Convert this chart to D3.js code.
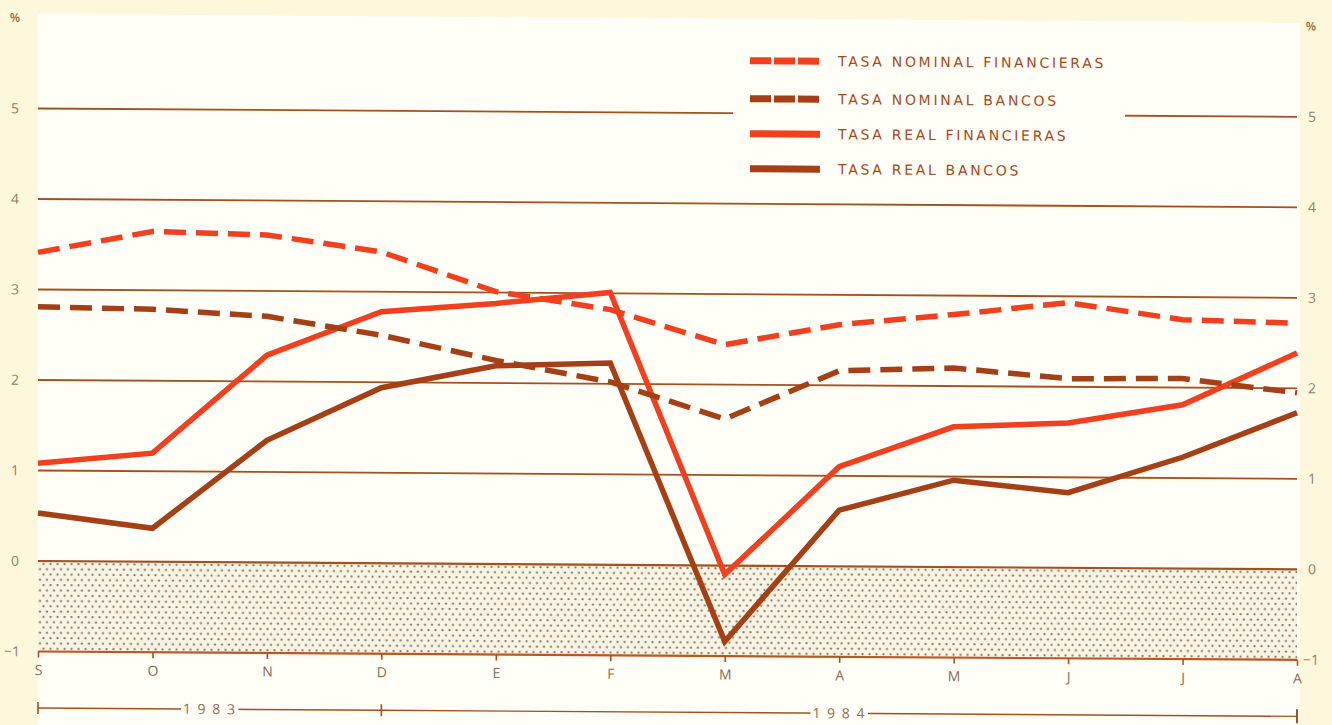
<!DOCTYPE html>
<html>
<head>
<meta charset="utf-8">
<script src="https://cdn.jsdelivr.net/npm/d3@7"></script>
<style>
  body { margin: 0; background: #fdf8dc; }
  svg { display: block; }
</style>
</head>
<body>
<div id="chart"></div>
<script>
// Data (monthly, Sept 1983 - Aug 1984)
var months = ["S", "O", "N", "D", "E", "F", "M", "A", "M", "J", "J", "A"];
var yTicks = [-1, 0, 1, 2, 3, 4, 5];

var nominalFinancieras = [3.41, 3.65, 3.62, 3.44, 3.01, 2.82, 2.44, 2.67, 2.79, 2.93, 2.75, 2.72];
var nominalBancos      = [2.81, 2.79, 2.72, 2.52, 2.25, 2.02, 1.62, 2.16, 2.20, 2.09, 2.10, 1.95];
var realFinancieras    = [1.08, 1.20, 2.29, 2.78, 2.88, 3.01, -0.10, 1.10, 1.55, 1.60, 1.81, 2.39];
var realBancos         = [0.53, 0.37, 1.35, 1.94, 2.19, 2.23, -0.84, 0.62, 0.96, 0.83, 1.23, 1.73];

var seriesNames = ["TASA NOMINAL FINANCIERAS", "TASA NOMINAL BANCOS", "TASA REAL FINANCIERAS", "TASA REAL BANCOS"];
var years = ["1 9 8 3", "1 9 8 4"];
var yearSpans = [[0, 3], [3, 11]];

// Width and height
var w = 1332;
var h = 725;

var red = "#f0401f";
var brown = "#a43f16";
var grid = "#a5511e";
var labelColor = "#8e7f68";

var xScale = d3.scaleLinear()
  .domain([0, months.length - 1])
  .range([38, 1297]);

var yScale = d3.scaleLinear()
  .domain([-1, 5])
  .range([651.5, 108.5]);

var svg = d3.select("#chart")
  .append("svg")
  .attr("width", w)
  .attr("height", h);

// stipple pattern for the negative band
var defs = svg.append("defs");
var pat = defs.append("pattern")
  .attr("id", "dots")
  .attr("patternUnits", "userSpaceOnUse")
  .attr("width", 7)
  .attr("height", 10.6);
pat.append("rect").attr("width", 7).attr("height", 10.6).attr("fill", "#f9f3e4");
pat.append("circle").attr("cx", 1.5).attr("cy", 2).attr("r", 1.15).attr("fill", "#85776a");
pat.append("circle").attr("cx", 5).attr("cy", 7.3).attr("r", 1.15).attr("fill", "#85776a");

// the printed page is slightly tilted
var g = svg.append("g")
  .attr("transform", "translate(38,0) skewY(0.38) translate(-38,0)");

// white panel
g.append("rect")
  .attr("x", 38)
  .attr("y", 14)
  .attr("width", 1262)
  .attr("height", h)
  .attr("fill", "#fffef7");

// negative band
g.append("rect")
  .attr("x", xScale(0))
  .attr("y", yScale(0))
  .attr("width", xScale(months.length - 1) - xScale(0))
  .attr("height", yScale(-1) - yScale(0))
  .attr("fill", "url(#dots)");

// gridlines
g.selectAll(".grid")
  .data(yTicks)
  .enter().append("line")
  .attr("class", "grid")
  .attr("x1", xScale(0))
  .attr("x2", xScale(months.length - 1))
  .attr("y1", function(d) { return yScale(d); })
  .attr("y2", function(d) { return yScale(d); })
  .style("stroke", function(d) { return d == -1 ? "#c0561f" : grid; })
  .style("stroke-width", function(d) { return d <= 0 ? 2.2 : 1.8; });

// Y axis labels, both sides
var tickLabel = function(d) { return d < 0 ? "\u2212" + Math.abs(d) : d; };
g.selectAll(".ylabL")
  .data(yTicks)
  .enter().append("text")
  .attr("x", function(d) { return d < 0 ? 20 : 15; })
  .attr("y", function(d) { return yScale(d); })
  .attr("dy", "0.35em")
  .style("text-anchor", function(d) { return d < 0 ? "end" : "middle"; })
  .style("font", "14px 'Open Sans', sans-serif")
  .style("fill", labelColor)
  .text(tickLabel);

g.selectAll(".ylabR")
  .data(yTicks)
  .enter().append("text")
  .attr("x", function(d) { return d < 0 ? 1303 : 1312; })
  .attr("y", function(d) { return yScale(d); })
  .attr("dy", "0.35em")
  .style("text-anchor", function(d) { return d < 0 ? "start" : "middle"; })
  .style("font", "14px 'Open Sans', sans-serif")
  .style("fill", labelColor)
  .text(tickLabel);

g.append("text").attr("x", 15).attr("y", 22)
  .style("text-anchor", "middle").style("font", "600 12px 'Open Sans', sans-serif")
  .style("fill", "#9a6a40").text("%");
g.append("text").attr("x", 1311).attr("y", 22)
  .style("text-anchor", "middle").style("font", "600 12px 'Open Sans', sans-serif")
  .style("fill", "#9a6a40").text("%");

// X axis: ticks under -1 line + month letters
var xAxis = d3.axisBottom(xScale)
  .tickValues(d3.range(months.length))
  .tickSize(6)
  .tickFormat(function(d) { return months[d]; });

var xg = g.append("g")
  .attr("transform", "translate(0," + yScale(-1) + ")")
  .call(xAxis);
xg.select(".domain").remove();
xg.selectAll(".tick line").style("stroke", grid).style("stroke-width", 1.6);
xg.selectAll(".tick text")
  .attr("y", 11)
  .attr("dy", "0.9em")
  .style("font", "14px 'Open Sans', sans-serif")
  .style("fill", "#8a6d55");

// year brackets
var yearY = 708;
yearSpans.forEach(function(s, i) {
  var x1 = xScale(s[0]), x2 = xScale(s[1]);
  g.append("line")
    .attr("x1", x1).attr("x2", x2)
    .attr("y1", yearY).attr("y2", yearY)
    .style("stroke", grid).style("stroke-width", 1.4);
  g.append("line")
    .attr("x1", x1).attr("x2", x1)
    .attr("y1", yearY - 6).attr("y2", yearY + 6)
    .style("stroke", grid).style("stroke-width", 1.6);
  if (i == yearSpans.length - 1) {
    g.append("line")
      .attr("x1", x2).attr("x2", x2)
      .attr("y1", yearY - 7).attr("y2", yearY + 7)
      .style("stroke", grid).style("stroke-width", 2);
  }
  var t = g.append("text")
    .attr("x", (x1 + x2) / 2)
    .attr("y", yearY)
    .attr("dy", "0.35em")
    .style("text-anchor", "middle")
    .style("font", "14px 'Open Sans', sans-serif")
    .style("letter-spacing", "1.5px")
    .style("fill", "#8a6d55")
    .text(years[i]);
  var bb = t.node().getBBox();
  g.insert("rect", function() { return t.node(); })
    .attr("x", bb.x - 2).attr("y", bb.y)
    .attr("width", bb.width + 4).attr("height", bb.height)
    .attr("fill", "#fffef7");
});

// legend backdrop hides the 5 gridline
g.append("rect")
  .attr("x", 733).attr("y", 36)
  .attr("width", 392).attr("height", 150)
  .attr("fill", "#fffef7");

// Line function
var line = d3.line()
  .x(function(d, i) { return xScale(i); })
  .y(function(d) { return yScale(d); });

var series = [
  { name: seriesNames[0], values: nominalFinancieras, color: red, dash: "22,10" },
  { name: seriesNames[1], values: nominalBancos, color: brown, dash: "22,10" },
  { name: seriesNames[2], values: realFinancieras, color: red, dash: null },
  { name: seriesNames[3], values: realBancos, color: brown, dash: null }
];

// draw solid ones first, then dashed on top
[3, 2, 1, 0].forEach(function(k) {
  var s = series[k];
  g.append("path")
    .attr("d", line(s.values))
    .style("fill", "none")
    .style("stroke", s.color)
    .style("stroke-width", 5.5)
    .style("stroke-linejoin", "miter")
    .style("stroke-dasharray", s.dash);
});

// Legend
var legY = [56, 94, 129, 164];
series.forEach(function(s, i) {
  var lg = g.append("g").attr("transform", "translate(750," + legY[i] + ")");
  if (s.dash) {
    [0, 1, 2].forEach(function(j) {
      lg.append("rect")
        .attr("x", j * 24).attr("y", -3.5)
        .attr("width", 21).attr("height", 7)
        .attr("fill", s.color);
    });
  } else {
    lg.append("rect")
      .attr("x", 0).attr("y", -3.5)
      .attr("width", 70).attr("height", 7)
      .attr("fill", s.color);
  }
  lg.append("text")
    .attr("x", 88)
    .attr("y", 0)
    .attr("dy", "0.36em")
    .style("font", "14px 'DejaVu Sans', sans-serif")
    .style("letter-spacing", "2.7px")
    .style("fill", "#a54a1a")
    .text(s.name);
});
</script>
</body>
</html>
